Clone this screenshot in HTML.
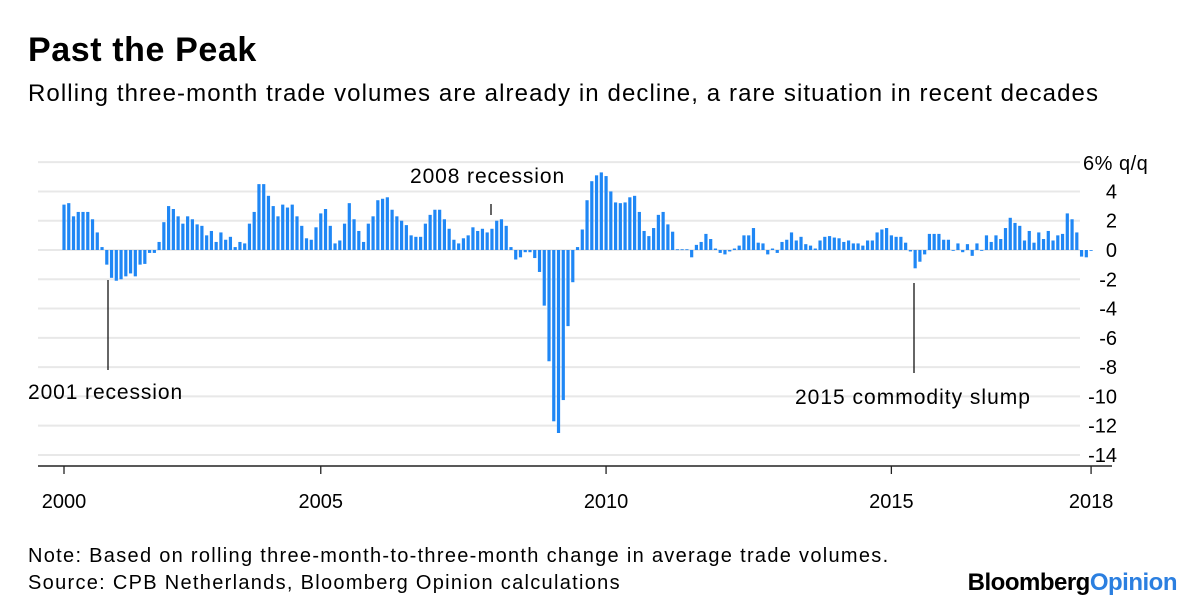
<!DOCTYPE html>
<html><head><meta charset="utf-8"><style>
body{margin:0;background:#fff;width:1200px;height:609px;overflow:hidden;font-family:"Liberation Sans",sans-serif;}
svg text{font-family:"Liberation Sans",sans-serif;}
</style></head><body>
<svg width="1200" height="609">
<text x="28" y="61" font-size="34" font-weight="bold" letter-spacing="0.6" fill="#000">Past the Peak</text>
<text x="28" y="101" font-size="24" letter-spacing="1.1" fill="#000">Rolling three-month trade volumes are already in decline, a rare situation in recent decades</text>
<g id="grid"></g><g id="bars"></g><g id="xaxis"></g>
<text x="1083" y="170" font-size="20" letter-spacing="0.5">6% q/q</text>
<line x1="108" y1="280" x2="108" y2="370" stroke="#000" stroke-width="1.2"/>
<text x="28" y="399" font-size="21" letter-spacing="0.9">2001 recession</text>
<line x1="491" y1="204" x2="491" y2="215" stroke="#000" stroke-width="1.2"/>
<text x="410" y="183" font-size="21" letter-spacing="0.9">2008 recession</text>
<line x1="914" y1="283" x2="914" y2="373" stroke="#000" stroke-width="1.2"/>
<text x="795" y="404" font-size="21" letter-spacing="1">2015 commodity slump</text>
<text x="28" y="562" font-size="20" letter-spacing="1.3">Note: Based on rolling three-month-to-three-month change in average trade volumes.</text>
<text x="28" y="589" font-size="20" letter-spacing="1.3">Source: CPB Netherlands, Bloomberg Opinion calculations</text>
<text x="1177" y="590" font-size="24" font-weight="bold" text-anchor="end" letter-spacing="-0.5">Bloomberg<tspan fill="#2b7fe0">Opinion</tspan></text>
</svg>
<script>
const yTicks=[6,4,2,0,-2,-4,-6,-8,-10,-12,-14];
const yearLabels=["2000","2005","2010","2015","2018"];
const yearDates=[2000.5,2005,2010,2015,2018.5];
const startDate=2000.5;
const values=[3.1,3.2,2.3,2.6,2.6,2.6,2.1,1.2,0.2,-1.0,-1.9,-2.1,-2.0,-1.8,-1.6,-1.8,-1.0,-0.95,-0.2,-0.2,
0.55,1.9,3.0,2.8,2.3,1.8,2.3,2.1,1.75,1.65,1.0,1.3,0.55,1.2,0.7,0.9,0.2,0.55,0.45,1.8,
2.6,4.5,4.5,3.7,3.0,2.3,3.1,2.9,3.1,2.3,1.65,0.8,0.7,1.55,2.5,
2.8,1.65,0.45,0.65,1.8,3.2,2.1,1.3,0.55,1.8,2.3,3.4,3.5,3.6,2.75,2.3,2.0,1.7,1.0,0.9,
0.9,1.8,2.4,2.75,2.75,2.1,1.45,0.7,0.45,0.8,1.0,1.55,1.3,1.45,1.2,1.45,2.0,2.1,1.65,0.2,
-0.65,-0.5,-0.15,-0.15,-0.55,
-1.5,-3.8,-7.6,-11.7,-12.5,-10.25,-5.2,-2.2,0.2,1.4,3.4,4.7,5.1,5.3,5.05,4.0,3.25,3.2,3.25,3.6,
3.7,2.6,1.3,0.95,1.5,2.4,2.6,1.75,1.25,0.05,0.05,0.05,
-0.5,0.35,0.55,1.1,0.75,0.1,-0.2,-0.3,-0.1,0.1,0.3,1.0,1.0,1.5,0.5,0.45,-0.3,0.1,-0.2,0.55,
0.7,1.2,0.65,0.9,0.4,0.3,0.1,0.65,0.9,0.95,0.85,0.8,0.55,0.65,0.45,0.45,0.3,0.65,0.65,1.2,
1.4,1.5,1.0,0.9,0.9,0.5,-0.1,-1.25,-0.8,-0.3,1.1,1.1,1.1,0.7,0.7,-0.05,0.45,-0.15,0.4,-0.4,
0.45,-0.05,1.0,0.55,1.0,0.75,1.5,2.2,1.85,1.65,0.65,1.3,0.5,1.2,0.75,1.3,0.65,1.0,1.1,2.5,
2.1,1.2,-0.45,-0.5,-0.05];
const NS="http://www.w3.org/2000/svg";
const y=v=>250-v*14.64;
const x=d=>64+(d-startDate)*57.06;
const g=document.getElementById('grid'),b=document.getElementById('bars'),xa=document.getElementById('xaxis');
function mk(tag,attrs,parent){const e=document.createElementNS(NS,tag);for(const k in attrs)e.setAttribute(k,attrs[k]);parent.appendChild(e);return e;}
yTicks.forEach(t=>{
  const l=mk('line',{x1:38,x2:1080,y1:y(t),y2:y(t),stroke:'#e8e8e8','stroke-width':2},g);
  
  
  if(t!==6){
  const tx=mk('text',{x:1117,y:y(t)+7,'font-size':20,'text-anchor':'end'},g);tx.textContent=t;
  
  }
});
values.forEach((v,i)=>{
  const xx=x(startDate+i/12);
  const r=mk('rect',{x:xx-1.6,width:3.2,y:Math.min(y(v),y(0)),height:Math.max(Math.abs(y(v)-y(0)),0.8),fill:'#1f87f5'},b);
  
  
});
const ax=mk('line',{x1:38,x2:1112,y1:466,y2:466,stroke:'#222','stroke-width':1.5},xa);


yearDates.forEach((d,i)=>{
  const t=mk('line',{x1:x(d),x2:x(d),y1:466,y2:474,stroke:'#222','stroke-width':1.3},xa);
  
  
  const tx=mk('text',{x:x(d),y:508,'font-size':20,'text-anchor':'middle'},xa);tx.textContent=yearLabels[i];
  
  
});
</script>
</body></html>
